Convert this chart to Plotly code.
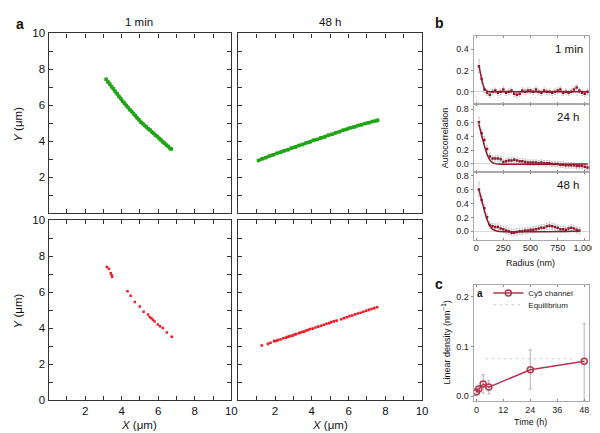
import plotly.graph_objects as go

# ---------------- data: panel a ----------------
tl_x = [3.15,3.25,3.35,3.45,3.55,3.65,3.75,3.85,3.95,4.05,4.15,4.25,4.35,4.45,4.55,4.65,4.75,4.85,4.95,5.05,
        5.15,5.25,5.35,5.45,5.55,5.65,5.75,5.85,5.95,6.05,6.15,6.25,6.35,6.45,6.55,6.65,6.72]
tl_y = [7.45,7.30,7.19,7.04,6.92,6.77,6.65,6.50,6.38,6.23,6.13,5.99,5.89,5.76,5.66,5.53,5.43,5.30,5.20,5.07,
        4.99,4.88,4.81,4.70,4.63,4.52,4.45,4.34,4.27,4.16,4.08,3.97,3.90,3.79,3.72,3.61,3.57]

tr_x = [1.10,1.30,1.50,1.70,1.90,2.10,2.30,2.50,2.70,2.90,3.10,3.30,3.50,3.70,3.90,4.10,4.30,4.50,4.70,4.90,
        5.10,5.30,5.50,5.70,5.90,6.10,6.30,6.50,6.70,6.90,7.10,7.30,7.50,7.58]
tr_y = [2.94,3.03,3.09,3.19,3.25,3.34,3.39,3.48,3.54,3.63,3.68,3.77,3.83,3.92,3.97,4.06,4.11,4.20,4.25,4.34,
        4.39,4.48,4.53,4.62,4.67,4.76,4.80,4.88,4.92,5.00,5.03,5.11,5.14,5.17]

bl_x = [3.19,3.30,3.40,3.45,3.48,4.32,4.49,4.72,4.99,5.20,5.44,5.53,5.62,5.71,5.80,5.98,6.10,6.25,6.47,6.74]
bl_y = [7.40,7.30,7.05,6.95,6.85,6.05,5.80,5.45,5.20,4.90,4.75,4.62,4.55,4.46,4.37,4.20,4.10,4.00,3.75,3.52]

br_x = [1.28,1.62,1.75,1.95,2.05,2.15,2.30,2.45,2.60,2.70,2.80,2.95,3.05,3.15,3.30,3.40,3.50,3.60,3.70,3.80,
        3.90,4.05,4.20,4.35,4.50,4.65,4.80,4.95,5.05,5.20,5.35,5.60,5.75,5.90,6.05,6.20,6.35,6.50,6.65,6.80,
        6.95,7.10,7.25,7.40,7.55]
br_y = [3.03,3.12,3.18,3.27,3.28,3.33,3.36,3.43,3.47,3.52,3.55,3.58,3.64,3.66,3.72,3.75,3.79,3.81,3.86,3.89,
        3.95,3.97,4.03,4.08,4.13,4.18,4.24,4.27,4.33,4.37,4.41,4.49,4.55,4.60,4.66,4.70,4.76,4.81,4.85,4.91,
        4.96,5.01,5.06,5.11,5.16]

# ---------------- data: panel b ----------------
radius = [25,50,75,100,125,150,175,200,225,250,275,300,325,350,375,400,425,450,475,500,
          525,550,575,600,625,650,675,700,725,750,775,800,825,850,875,900,925,950,975,1000,1025]
ac_1min = [0.24,0.12,0.02,-0.01,-0.03,0.00,0.01,-0.01,0.00,0.02,-0.01,0.00,0.01,-0.02,-0.03,-0.02,0.01,0.00,0.01,0.01,
           0.00,0.02,0.00,-0.01,0.01,0.00,0.00,-0.01,0.00,0.01,0.02,-0.01,0.00,-0.01,0.00,0.02,0.04,0.01,-0.01,-0.02,0.00]
err_1min = [0.06,0.04,0.03,0.025,0.025,0.025,0.025,0.025,0.025,0.025,0.025,0.025,0.025,0.025,0.025,0.025,0.025,0.025,0.025,0.025,
            0.025,0.025,0.025,0.025,0.025,0.025,0.025,0.025,0.025,0.025,0.025,0.025,0.025,0.025,0.025,0.025,0.025,0.025,0.025,0.025,0.025]
ac_24h = [0.61,0.45,0.35,0.22,0.11,0.08,0.08,0.08,0.07,0.03,0.04,0.05,0.05,0.06,0.05,0.04,0.04,0.03,0.02,0.02,
          0.02,0.02,0.01,0.02,0.01,0.01,0.01,0.00,0.00,0.00,-0.01,-0.01,-0.02,-0.02,-0.02,-0.02,-0.03,-0.03,-0.03,-0.04,-0.05]
err_24h = [0.07,0.05,0.05,0.05,0.045,0.04,0.04,0.04,0.04,0.04,0.04,0.04,0.04,0.04,0.04,0.04,0.04,0.04,0.04,0.04,
           0.04,0.04,0.04,0.04,0.04,0.04,0.04,0.04,0.04,0.04,0.04,0.04,0.04,0.04,0.04,0.04,0.04,0.04,0.04,0.04,0.04]
ac_48h = [0.60,0.45,0.33,0.20,0.09,0.07,0.06,0.06,0.04,0.03,0.01,0.00,-0.02,-0.02,-0.01,0.00,0.00,0.01,0.01,0.02,
          0.02,0.03,0.04,0.05,0.05,0.07,0.08,0.07,0.06,0.05,0.03,0.03,0.02,0.04,0.05,0.04,0.02,0.01]
err_48h = [0.10,0.06,0.05,0.05,0.05,0.045,0.045,0.045,0.045,0.045,0.045,0.045,0.045,0.045,0.045,0.045,0.045,0.045,0.045,0.045,
           0.045,0.045,0.045,0.045,0.045,0.045,0.045,0.045,0.045,0.045,0.045,0.045,0.045,0.045,0.045,0.045,0.045,0.045]

fit_r1 = [25,50,75,100,125,150,1025]
fit_1min = [0.25,0.12,0.03,0.005,0.0,0.0,0.0]
fit_r2 = [25,50,75,100,125,150,175,200,1025]
fit_24h = [0.58,0.42,0.27,0.14,0.06,0.02,0.005,0.0,0.0]
fit_r3 = [25,50,75,100,125,150,175,200,950]
fit_48h = [0.60,0.45,0.30,0.17,0.08,0.03,0.01,0.0,0.0]

# ---------------- data: panel c ----------------
time_h = [0, 1, 3, 5.5, 24, 48]
lin_density = [0.008, 0.014, 0.024, 0.018, 0.053, 0.070]
dens_upper = [0.013, 0.020, 0.043, 0.031, 0.093, 0.146]
dens_lower = [0.004, 0.008, 0.006, 0.004, 0.014, -0.010]
equil_t = [4, 44]
equil_val = [0.075, 0.075]

# ---------------- layout helpers ----------------
W, H = 600, 433
def xd(a, b): return [a / W, b / W]
def yd(top, bot): return [1 - bot / H, 1 - top / H]

GREEN = '#1fa516'
RED = '#ee1c25'
DRED = '#8e1c30'
CRED = '#b5344f'
FONT = 'Liberation Sans, Arial, sans-serif'

fig = go.Figure()

# panel a traces
fig.add_trace(go.Scatter(x=tl_x, y=tl_y, mode='lines+markers', line=dict(color=GREEN, width=3),
                         marker=dict(color=GREEN, size=3.5, symbol='square'), xaxis='x', yaxis='y', showlegend=False))
fig.add_trace(go.Scatter(x=tr_x, y=tr_y, mode='lines+markers', line=dict(color=GREEN, width=3),
                         marker=dict(color=GREEN, size=3.5, symbol='square'), xaxis='x2', yaxis='y2', showlegend=False))
fig.add_trace(go.Scatter(x=bl_x, y=bl_y, mode='markers',
                         marker=dict(color=RED, size=2.5, symbol='square'), xaxis='x3', yaxis='y3', showlegend=False))
fig.add_trace(go.Scatter(x=br_x, y=br_y, mode='markers',
                         marker=dict(color=RED, size=2.6, symbol='square'), xaxis='x4', yaxis='y4', showlegend=False))

# panel b traces
for k, (ys, es, fr, fv) in enumerate([(ac_1min, err_1min, fit_r1, fit_1min),
                                       (ac_24h, err_24h, fit_r2, fit_24h),
                                       (ac_48h, err_48h, fit_r3, fit_48h)]):
    ax = str(5 + k)
    fig.add_trace(go.Scatter(x=radius[:len(ys)], y=ys, mode='markers',
                             marker=dict(color=DRED, size=2.5, symbol='square'),
                             error_y=dict(type='data', array=es, color='#bdbdbd', thickness=0.8, width=1),
                             xaxis='x' + ax, yaxis='y' + ax, showlegend=False))
    fig.add_trace(go.Scatter(x=fr, y=fv, mode='lines', line=dict(color=DRED, width=1.5, shape='spline'),
                             xaxis='x' + ax, yaxis='y' + ax, showlegend=False))

# panel c traces
fig.add_trace(go.Scatter(x=time_h, y=lin_density, mode='lines+markers', name='Cy5 channel',
                         line=dict(color=CRED, width=1.5),
                         marker=dict(symbol='circle-open', size=6, color=CRED, line=dict(width=1.5)),
                         error_y=dict(type='data', symmetric=False,
                                      array=[u - v for u, v in zip(dens_upper, lin_density)],
                                      arrayminus=[v - l for v, l in zip(lin_density, dens_lower)],
                                      color='#a0a0a0', thickness=0.8, width=1.5),
                         xaxis='x8', yaxis='y8', legend='legend'))
fig.add_trace(go.Scatter(x=equil_t, y=equil_val, mode='lines', name='Equilibrium',
                         line=dict(color='#d0d0d0', width=1, dash='dot'), xaxis='x8', yaxis='y8',
                         legend='legend2'))

# axes
def a_axis(domain, vals, showlabels, anchor):
    return dict(domain=domain, range=[0, 10], tickvals=vals, showticklabels=showlabels,
                ticks='inside', ticklen=4, tickcolor='#333', showline=True, linecolor='#333', linewidth=1.2,
                mirror='ticks', showgrid=False, zeroline=False, anchor=anchor,
                minor=dict(dtick=1, ticks='inside', ticklen=4, tickcolor='#333', showgrid=False),
                tickfont=dict(size=11.5, color='#111', family=FONT))

lab = [2, 4, 6, 8, 10]
lab0 = [0, 2, 4, 6, 8, 10]

xa1, xa2 = xd(41, 226), xd(233, 419)
ya1, ya2 = yd(20, 205), yd(212, 397)

lay = dict(
    xaxis=a_axis(xa1, lab, False, 'y'),
    yaxis=a_axis(ya1, lab, True, 'x'),
    xaxis2=a_axis(xa2, lab, False, 'y2'),
    yaxis2=a_axis(ya1, lab, False, 'x2'),
    xaxis3=a_axis(xa1, lab, True, 'y3'),
    yaxis3=a_axis(ya2, lab0, True, 'x3'),
    xaxis4=a_axis(xa2, lab, True, 'y4'),
    yaxis4=a_axis(ya2, lab, False, 'x4'),
)

bx = xd(471, 588)
b_ranges = [([-0.12, 0.52], yd(23, 93), [0.0, 0.2, 0.4]),
            ([-0.11, 0.87], yd(93, 162), [0.0, 0.2, 0.4, 0.6, 0.8]),
            ([-0.12, 0.86], yd(162, 232), [0.0, 0.2, 0.4, 0.6, 0.8])]
r_ticks = [0, 250, 500, 750, 1000]
for k, (rng, dom, tv) in enumerate(b_ranges):
    n = str(5 + k)
    lay['xaxis' + n] = dict(domain=bx, range=[-25, 1040], tickvals=r_ticks,
                            ticktext=['0', '250', '500', '750', '1,000'],
                            showticklabels=(k == 2),
                            ticks='inside', ticklen=2, tickcolor='#888', showline=True, linecolor='#aaa',
                            linewidth=1, mirror='ticks', showgrid=False, zeroline=False, anchor='y' + n,
                            tickfont=dict(size=9, color='#222', family=FONT))
    lay['yaxis' + n] = dict(domain=dom, range=rng, tickvals=tv, tickformat='.1f',
                            ticks='outside', ticklen=2, tickcolor='#888', showline=True, linecolor='#aaa',
                            linewidth=1, mirror=True, showgrid=False, zeroline=True, zerolinecolor='#d8d8d8',
                            zerolinewidth=1, anchor='x' + n,
                            tickfont=dict(size=9, color='#222', family=FONT))

lay['xaxis8'] = dict(domain=bx, range=[-1.3, 50.2], tickvals=[0, 12, 24, 36, 48], ticks='inside', ticklen=2,
                     tickcolor='#888', showline=True, linecolor='#aaa', linewidth=1, mirror='ticks',
                     showgrid=False, zeroline=False, anchor='y8', tickfont=dict(size=9, color='#222', family=FONT))
lay['yaxis8'] = dict(domain=yd(279, 398), range=[-0.01, 0.2235], tickvals=[0.0, 0.1, 0.2], tickformat='.1f',
                     ticks='outside', ticklen=2, tickcolor='#888', showline=True, linecolor='#aaa', linewidth=1,
                     mirror=True, showgrid=False, zeroline=False, anchor='x8',
                     tickfont=dict(size=9, color='#222', family=FONT))

fig.update_layout(**lay)

def ann(text, x, y, size, bold=False, angle=0, xanchor='center', color='#111'):
    fig.add_annotation(text=('<b>%s</b>' % text) if bold else text, x=x / W, y=1 - y / H, xref='paper',
                       yref='paper', showarrow=False, textangle=angle, xanchor=xanchor, yanchor='middle',
                       font=dict(size=size, color=color, family=FONT))

ann('a', 12, 10, 14, bold=True)
ann('b', 437, 9, 14, bold=True)
ann('c', 436, 278, 14, bold=True)
ann('1 min', 133, 8, 11.5)
ann('48 h', 326, 8, 11.5)
ann('<i>Y</i> (μm)', 10, 113, 11.5, angle=-90)
ann('<i>Y</i> (μm)', 10, 305, 11.5, angle=-90)
ann('<i>X</i> (μm)', 133, 423, 11.5)
ann('<i>X</i> (μm)', 326, 423, 11.5)
ann('1 min', 584, 36, 11.5, xanchor='right')
ann('24 h', 580, 106, 11.5, xanchor='right')
ann('48 h', 580, 176, 11.5, xanchor='right')
ann('Autocorrelation', 443, 127, 9, angle=-90)
ann('Radius (nm)', 529, 256, 9)
ann('Linear density (nm<sup>−1</sup>)', 443, 338, 9, angle=-90)
ann('Time (h)', 529, 420, 9)
ann('a', 478, 287, 10, bold=True)

leg_common = dict(xanchor='left', yanchor='middle', bgcolor='rgba(0,0,0,0)', borderwidth=0,
                  font=dict(size=8, color='#222', family=FONT), itemwidth=30)
fig.update_layout(width=W, height=H, margin=dict(l=0, r=0, t=0, b=0), plot_bgcolor='white',
                  paper_bgcolor='white', font=dict(family=FONT),
                  legend=dict(x=486 / W, y=1 - 287 / H, **leg_common),
                  legend2=dict(x=486 / W, y=1 - 299 / H, **leg_common))

fig.write_html('out.html')
